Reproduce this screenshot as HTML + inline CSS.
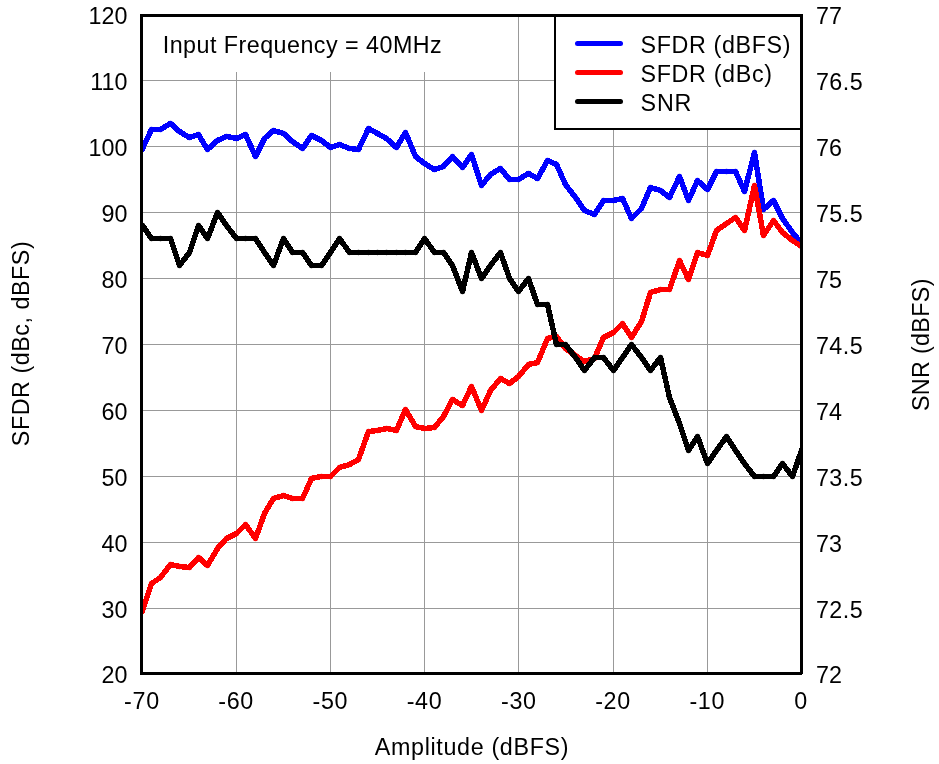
<!DOCTYPE html>
<html><head><meta charset="utf-8"><title>SFDR and SNR vs Amplitude</title>
<style>
html,body{margin:0;padding:0;background:#fff;}
body{width:939px;height:764px;overflow:hidden;}
svg{display:block;}
text{font-family:"Liberation Sans", Arial, Helvetica, sans-serif;font-size:23.3px;fill:#000;}
</style></head><body>
<svg width="939" height="764" viewBox="0 0 939 764">
<rect width="939" height="764" fill="#fff"/>
<g fill="#999" shape-rendering="crispEdges"><rect x="236" y="16" width="1" height="657"/><rect x="330" y="16" width="1" height="657"/><rect x="424" y="16" width="1" height="657"/><rect x="518" y="16" width="1" height="657"/><rect x="613" y="16" width="1" height="657"/><rect x="707" y="16" width="1" height="657"/><rect x="142" y="80" width="659" height="1"/><rect x="142" y="146" width="659" height="1"/><rect x="142" y="212" width="659" height="1"/><rect x="142" y="278" width="659" height="1"/><rect x="142" y="344" width="659" height="1"/><rect x="142" y="410" width="659" height="1"/><rect x="142" y="476" width="659" height="1"/><rect x="142" y="542" width="659" height="1"/><rect x="142" y="608" width="659" height="1"/></g>
<rect x="150" y="17" width="320" height="55" fill="#fff"/>
<clipPath id="c"><rect x="141.5" y="15.5" width="660" height="658"/></clipPath>
<defs>
<marker id="mb" markerUnits="userSpaceOnUse" markerWidth="8" markerHeight="8" refX="4" refY="4" overflow="visible"><circle cx="4" cy="4" r="2.65" fill="#0000ff"/></marker>
<marker id="mr" markerUnits="userSpaceOnUse" markerWidth="8" markerHeight="8" refX="4" refY="4" overflow="visible"><circle cx="4" cy="4" r="2.65" fill="#ff0000"/></marker>
<marker id="mk" markerUnits="userSpaceOnUse" markerWidth="8" markerHeight="8" refX="4" refY="4" overflow="visible"><circle cx="4" cy="4" r="2.65" fill="#000000"/></marker>
</defs>
<g clip-path="url(#c)" fill="none" stroke-width="5.5" stroke-linejoin="bevel" stroke-linecap="butt" shape-rendering="crispEdges">
<polyline stroke="#0000ff" marker-mid="url(#mb)" points="141.5,150.6 142.5,148.5 151.5,129.5 160.5,129.5 170.5,123.5 179.5,131.5 189.5,137.5 198.5,134.5 207.5,149.5 217.5,140.5 226.5,136.5 236.5,138.5 245.5,134.5 255.5,156.5 264.5,138.5 273.5,130.5 283.5,133.5 292.5,141.5 302.5,148.5 311.5,135.5 321.5,140.5 330.5,147.5 339.5,144.5 349.5,148.5 358.5,149.5 368.5,128.5 377.5,133.5 386.5,138.5 396.5,147.5 405.5,132.5 415.5,156.5 424.5,163.5 434.5,169.5 443.5,166.5 452.5,156.5 462.5,167.5 471.5,154.5 481.5,185.5 490.5,174.5 500.5,168.5 509.5,179.5 518.5,179.5 528.5,173.5 537.5,178.5 547.5,160.5 556.5,164.5 565.5,184.5 575.5,197.5 584.5,210.5 594.5,214.5 603.5,200.5 613.5,200.5 622.5,198.5 631.5,218.5 641.5,208.5 650.5,187.5 660.5,190.5 669.5,197.5 679.5,176.5 688.5,200.5 697.5,180.5 707.5,189.5 716.5,171.5 726.5,171.5 735.5,171.5 744.5,191.5 754.5,152.5 763.5,209.5 773.5,200.5 782.5,218.5 792.5,232.5 801.5,243.5 802.5,244.7"/>
<polyline stroke="#ff0000" marker-mid="url(#mr)" points="141.5,613.5 142.5,610.5 151.5,583.5 160.5,577.5 170.5,564.5 179.5,566.5 189.5,567.5 198.5,557.5 207.5,565.5 217.5,548.5 226.5,538.5 236.5,533.5 245.5,524.5 255.5,538.5 264.5,513.5 273.5,498.5 283.5,495.5 292.5,498.5 302.5,498.5 311.5,478.5 321.5,476.5 330.5,476.5 339.5,467.5 349.5,464.5 358.5,459.5 368.5,431.5 377.5,430.5 386.5,428.5 396.5,430.5 405.5,409.5 415.5,426.5 424.5,428.5 434.5,427.5 443.5,416.5 452.5,399.5 462.5,405.5 471.5,386.5 481.5,410.5 490.5,390.5 500.5,378.5 509.5,383.5 518.5,376.5 528.5,364.5 537.5,362.5 547.5,338.5 556.5,336.5 565.5,348.5 575.5,355.5 584.5,361.5 594.5,358.5 603.5,337.5 613.5,332.5 622.5,323.5 631.5,337.5 641.5,321.5 650.5,292.5 660.5,289.5 669.5,289.5 679.5,260.5 688.5,279.5 697.5,252.5 707.5,255.5 716.5,230.5 726.5,223.5 735.5,217.5 744.5,230.5 754.5,185.5 763.5,235.5 773.5,220.5 782.5,232.5 792.5,240.5 801.5,246.5 802.5,247.2"/>
<polyline stroke="#000000" marker-mid="url(#mk)" points="141.5,224.1 142.5,225.5 151.5,238.5 160.5,238.5 170.5,238.5 179.5,265.5 189.5,252.5 198.5,225.5 207.5,238.5 217.5,212.5 226.5,225.5 236.5,238.5 245.5,238.5 255.5,238.5 264.5,252.5 273.5,265.5 283.5,238.5 292.5,252.5 302.5,252.5 311.5,265.5 321.5,265.5 330.5,252.5 339.5,238.5 349.5,252.5 358.5,252.5 368.5,252.5 377.5,252.5 386.5,252.5 396.5,252.5 405.5,252.5 415.5,252.5 424.5,238.5 434.5,252.5 443.5,252.5 452.5,265.5 462.5,291.5 471.5,252.5 481.5,278.5 490.5,265.5 500.5,252.5 509.5,278.5 518.5,291.5 528.5,278.5 537.5,304.5 547.5,304.5 556.5,344.5 565.5,344.5 575.5,357.5 584.5,370.5 594.5,357.5 603.5,357.5 613.5,370.5 622.5,357.5 631.5,344.5 641.5,357.5 650.5,370.5 660.5,357.5 669.5,397.5 679.5,423.5 688.5,450.5 697.5,436.5 707.5,463.5 716.5,450.5 726.5,436.5 735.5,450.5 744.5,463.5 754.5,476.5 763.5,476.5 773.5,476.5 782.5,463.5 792.5,476.5 801.5,450.5 802.5,447.6"/>
</g>
<rect x="555" y="15.5" width="246.5" height="113.5" fill="#fff" stroke="#000" stroke-width="2" shape-rendering="crispEdges"/>
<rect x="141.5" y="15.5" width="660" height="658" fill="none" stroke="#000" stroke-width="3" shape-rendering="crispEdges"/>
<rect x="802" y="674" width="1" height="1" fill="#fff"/>
<g fill="none" stroke-width="5" stroke-linecap="round">
<line x1="577.5" y1="43.5" x2="620.5" y2="43.5" stroke="#0000ff"/>
<line x1="577.5" y1="72.5" x2="620.5" y2="72.5" stroke="#ff0000"/>
<line x1="577.5" y1="101.5" x2="620.5" y2="101.5" stroke="#000"/>
</g>
<text x="640.5" y="52.6" textLength="150">SFDR (dBFS)</text>
<text x="640.5" y="81.6" textLength="131.5">SFDR (dBc)</text>
<text x="640.5" y="110.5" textLength="50.9">SNR</text>
<text x="162.7" y="52.7" textLength="279">Input Frequency = 40MHz</text>
<text x="127.4" y="24.0" text-anchor="end">120</text><text x="127.4" y="90.0" text-anchor="end">110</text><text x="127.4" y="156.0" text-anchor="end">100</text><text x="127.4" y="222.0" text-anchor="end">90</text><text x="127.4" y="288.0" text-anchor="end">80</text><text x="127.4" y="354.0" text-anchor="end">70</text><text x="127.4" y="420.0" text-anchor="end">60</text><text x="127.4" y="486.0" text-anchor="end">50</text><text x="127.4" y="552.0" text-anchor="end">40</text><text x="127.4" y="618.0" text-anchor="end">30</text><text x="127.4" y="683.4" text-anchor="end">20</text>
<text x="816" y="24.1">77</text><text x="816" y="90.1" textLength="46.6">76.5</text><text x="816" y="156.1">76</text><text x="816" y="222.1" textLength="46.6">75.5</text><text x="816" y="288.1">75</text><text x="816" y="354.1" textLength="46.6">74.5</text><text x="816" y="420.1">74</text><text x="816" y="486.1" textLength="46.6">73.5</text><text x="816" y="552.1">73</text><text x="816" y="618.1" textLength="46.6">72.5</text><text x="816" y="683.4">72</text>
<text x="124.1" y="709.2" textLength="35">-70</text><text x="218.3" y="709.2" textLength="35">-60</text><text x="312.5" y="709.2" textLength="35">-50</text><text x="406.7" y="709.2" textLength="35">-40</text><text x="501.0" y="709.2" textLength="35">-30</text><text x="595.2" y="709.2" textLength="35">-20</text><text x="689.4" y="709.2" textLength="35">-10</text><text x="794.3" y="709.2">0</text>
<text x="374.8" y="755" textLength="193.7">Amplitude (dBFS)</text>
<text transform="translate(29.3,446.2) rotate(-90)" textLength="204.9">SFDR (dBc, dBFS)</text>
<text transform="translate(929,411.1) rotate(-90)" textLength="132.55">SNR (dBFS)</text>
</svg>
</body></html>
